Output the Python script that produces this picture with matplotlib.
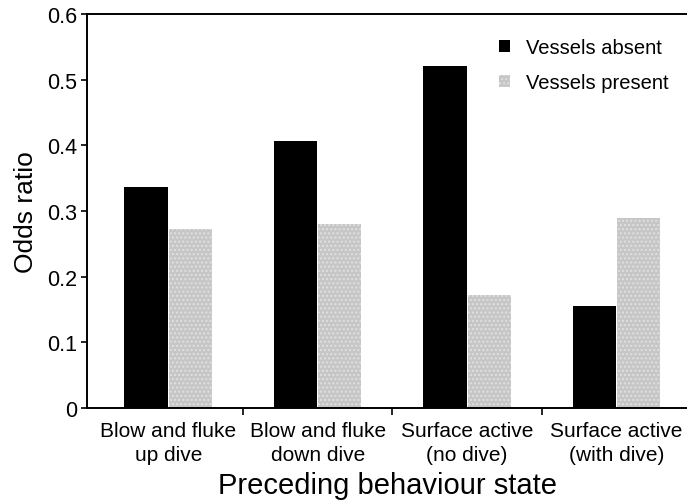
import numpy as np
import matplotlib.pyplot as plt

plt.rcParams['font.family'] = ['Liberation Sans', 'DejaVu Sans']

# data
categories = ['Blow and fluke\nup dive', 'Blow and fluke\ndown dive',
              'Surface active\n(no dive)', 'Surface active\n(with dive)']
absent = [0.337, 0.406, 0.521, 0.156]
present = [0.272, 0.281, 0.172, 0.289]

x = np.arange(len(categories))
w = 0.29

fig = plt.figure(figsize=(6.87, 5.02), dpi=100)
ax = fig.add_axes([0.127, 0.185, 0.873, 0.785])

ax.bar(x - w / 2 - 0.003, absent, w, color='black', label='Vessels absent')
ax.bar(x + w / 2 + 0.003, present, w, color='#c6c6c6', hatch='....',
       edgecolor='#e0e0e0', linewidth=0, label='Vessels present')

ax.set_xlim(-0.542, 3.471)
ax.set_ylim(0, 0.6)
ax.set_yticks([0, 0.1, 0.2, 0.3, 0.4, 0.5, 0.6])
ax.set_yticklabels(['0', '0.1', '0.2', '0.3', '0.4', '0.5', '0.6'])
ax.set_xticks(x)
ax.set_xticklabels(categories, fontsize=15, linespacing=1.35)
ax.set_xticks([0.5, 1.5, 2.5], minor=True)
ax.tick_params(axis='x', which='major', length=0, pad=9)
ax.tick_params(axis='x', which='minor', length=5, width=1.2)
ax.tick_params(axis='y', length=4, width=1.2, labelsize=15.5)

ax.spines['right'].set_visible(False)
for s in ['left', 'bottom', 'top']:
    ax.spines[s].set_linewidth(1.4)

ax.set_ylabel('Odds ratio', fontsize=19, labelpad=6)
ax.set_xlabel('Preceding behaviour state', fontsize=21, labelpad=5)

leg = ax.legend(loc='upper right', frameon=False, fontsize=14.5,
                handlelength=0.55, handleheight=0.55, handletextpad=0.8,
                labelspacing=0.8, bbox_to_anchor=(1.0, 0.985))

fig.savefig('out.png', dpi=100)
